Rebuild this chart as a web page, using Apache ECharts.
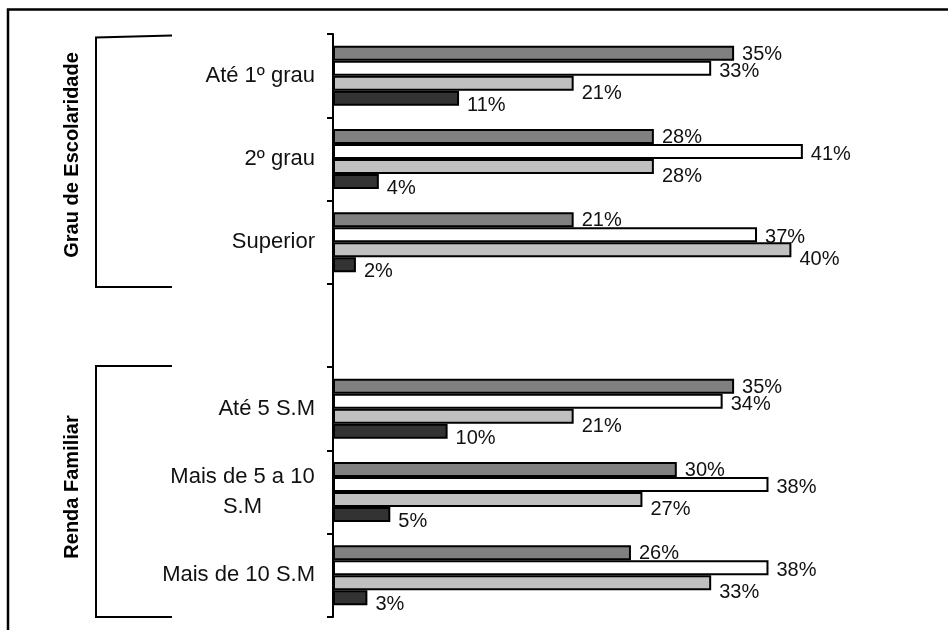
<!DOCTYPE html>
<html>
<head>
<meta charset="utf-8">
<script src="https://cdn.jsdelivr.net/npm/echarts@6/dist/echarts.min.js"></script>
<style>
  html, body { margin: 0; padding: 0; background: #fff; }
  #chart { width: 948px; height: 630px; }
</style>
</head>
<body>
<div id="chart"></div>
<script>
// Categories, top to bottom (the empty one separates the two groups)
const categories = ['Até 1º grau', '2º grau', 'Superior', '', 'Até 5 S.M', 'Mais de 5 a 10\nS.M', 'Mais de 10 S.M'];

// Percentages for the four bars of each category
const serieA = [35, 28, 21, null, 35, 30, 26];
const serieB = [33, 41, 37, null, 34, 38, 38];
const serieC = [21, 28, 40, null, 21, 27, 33];
const serieD = [11, 4, 2, null, 10, 5, 3];

// Group captions, drawn vertically beside the brackets
const groupTitles = ['Grau de Escolaridade', 'Renda Familiar'];

const FONT = '"Liberation Sans", Arial, sans-serif';

// width of the longest line in the two-line category label, so both lines centre on it
function textWidth(str, font) {
  const c = document.createElement('canvas').getContext('2d');
  c.font = font;
  return Math.ceil(c.measureText(str).width);
}
const wrapWidth = textWidth('Mais de 5 a 10', '22px "Liberation Sans", Arial, sans-serif');

function barSeries(name, data, color, dy) {
  return {
    name: name,
    type: 'bar',
    data: data,
    barGap: '0%',
    barCategoryGap: '28%',
    itemStyle: { color: color, borderColor: '#000', borderWidth: 2 },
    label: {
      show: true,
      position: 'right',
      distance: 8,
      offset: [0, dy],
      formatter: p => p.value + '%',
      fontFamily: FONT,
      fontSize: 20,
      color: '#111'
    },
    silent: true,
    animation: false
  };
}

const chart = echarts.init(document.getElementById('chart'), null, { renderer: 'canvas' });

chart.setOption({
  backgroundColor: '#fff',
  animation: false,
  grid: { left: 333, top: 34, width: 573, height: 583, containLabel: false },
  xAxis: {
    type: 'value',
    min: 0,
    max: 50,
    show: false,
    splitLine: { show: false }
  },
  yAxis: {
    type: 'category',
    data: categories,
    inverse: true,
    axisLine: { show: true, lineStyle: { color: '#000', width: 2 } },
    axisTick: { show: true, length: 6, inside: false, lineStyle: { color: '#000', width: 2 } },
    axisLabel: {
      interval: 0,
      margin: 18,
      fontFamily: FONT,
      fontSize: 22,
      lineHeight: 30,
      color: '#111',
      formatter: v => v.indexOf('\n') >= 0
        ? v.split('\n').map(s => '{m|' + s + '}').join('\n')
        : v,
      rich: {
        m: { width: wrapWidth, align: 'center', fontFamily: FONT, fontSize: 22, lineHeight: 30, color: '#111' }
      }
    },
    splitLine: { show: false }
  },
  series: [
    barSeries('A', serieA, '#808080', 1),
    barSeries('B', serieB, '#ffffff', 3),
    barSeries('C', serieC, '#c0c0c0', 10),
    barSeries('D', serieD, '#333333', 7)
  ],
  graphic: [
    // frame on the top and left edges
    { type: 'polyline', shape: { points: [[8, 632], [8, 9.5], [950, 9.5]] },
      style: { stroke: '#000', lineWidth: 2.5, fill: null }, silent: true },
    // bracket for the education group
    { type: 'polyline', shape: { points: [[172, 35.5], [96, 37.5], [96, 287], [172, 287]] },
      style: { stroke: '#000', lineWidth: 2, fill: null }, silent: true },
    // bracket for the income group
    { type: 'polyline', shape: { points: [[172, 366], [96, 366], [96, 617], [172, 617]] },
      style: { stroke: '#000', lineWidth: 2, fill: null }, silent: true },
    { type: 'text', x: 72, y: 155, rotation: Math.PI / 2,
      style: { text: groupTitles[0], font: 'bold 20px ' + FONT, fill: '#000', align: 'center', verticalAlign: 'middle' },
      silent: true },
    { type: 'text', x: 72, y: 487, rotation: Math.PI / 2,
      style: { text: groupTitles[1], font: 'bold 20px ' + FONT, fill: '#000', align: 'center', verticalAlign: 'middle' },
      silent: true }
  ]
});
</script>
</body>
</html>
